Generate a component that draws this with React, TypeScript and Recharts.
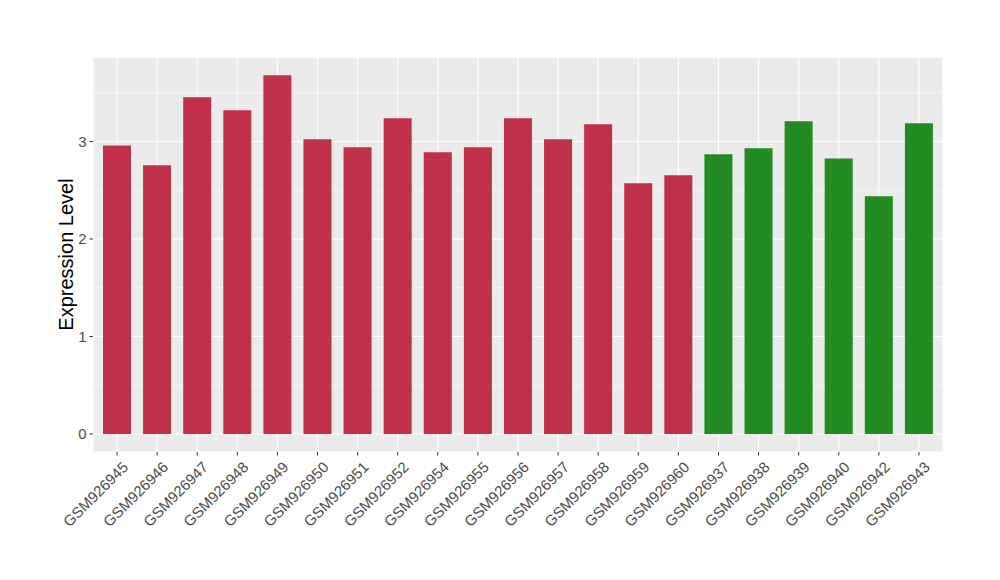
import { BarChart, Bar, XAxis, YAxis, CartesianGrid, Cell } from 'recharts'

const samples = [
  'GSM926945', 'GSM926946', 'GSM926947', 'GSM926948', 'GSM926949', 'GSM926950', 'GSM926951',
  'GSM926952', 'GSM926954', 'GSM926955', 'GSM926956', 'GSM926957', 'GSM926958', 'GSM926959',
  'GSM926960', 'GSM926937', 'GSM926938', 'GSM926939', 'GSM926940', 'GSM926942', 'GSM926943',
]
const values = [
  2.96, 2.756, 3.453, 3.32, 3.679, 3.022, 2.94,
  3.238, 2.889, 2.94, 3.238, 3.022, 3.176, 2.571,
  2.653, 2.869, 2.93, 3.207, 2.827, 2.438, 3.187,
]
const groups = [
  'A', 'A', 'A', 'A', 'A', 'A', 'A',
  'A', 'A', 'A', 'A', 'A', 'A', 'A',
  'A', 'B', 'B', 'B', 'B', 'B', 'B',
]
const majorTicks = [0, 1, 2, 3]
const minorTicks = [0.5, 1.5, 2.5, 3.5]
const Y_DOMAIN = [-0.185, 3.867]

const GROUP_COLORS: Record<string, string> = { A: '#C13049', B: '#228B22' }
const FONT = '"Liberation Sans", Arial, Helvetica, sans-serif'
const TICK_TEXT = '#4D4D4D'
const TICK_LINE = '#333333'

const data = samples.map((s, i) => ({ sample: s, value: values[i], group: groups[i] }))

function XTick({ x, y, payload }: any) {
  return (
    <g transform={`translate(${x},${y})`}>
      <text
        transform="rotate(-45)"
        textAnchor="end"
        dy={16}
        dx={1}
        fill={TICK_TEXT}
        fontSize={15}
        fontFamily={FONT}
      >
        {payload.value}
      </text>
    </g>
  )
}

function YTitle({ viewBox }: any) {
  const cx = viewBox.x + 20
  const cy = viewBox.y + viewBox.height / 2
  return (
    <text
      x={cx}
      y={cy}
      transform={`rotate(-90 ${cx} ${cy})`}
      textAnchor="middle"
      fill="#000000"
      fontSize={20}
      fontFamily={FONT}
    >
      Expression Level
    </text>
  )
}

export default function App() {
  return (
    <div style={{ position: 'absolute', top: 0, left: 0, width: 1000, height: 580, background: '#fff' }}>
      <BarChart
        width={1000}
        height={580}
        data={data}
        margin={{ top: 57, right: 57, bottom: 0, left: 53 }}
        barSize={28}
      >
        <CartesianGrid fill="#EBEBEB" stroke="#FFFFFF" strokeWidth={1.1} />
        {/* minor grid from a hidden axis with the same domain */}
        <CartesianGrid vertical={false} yAxisId="minor" stroke="#FFFFFF" strokeWidth={0.55} />
        <XAxis
          dataKey="sample"
          interval={0}
          padding={{ left: 4, right: 4 }}
          axisLine={false}
          tickSize={3.5}
          tickLine={{ stroke: TICK_LINE }}
          tick={<XTick />}
          height={128}
        />
        <YAxis
          type="number"
          domain={Y_DOMAIN}
          ticks={majorTicks}
          allowDataOverflow
          axisLine={false}
          tickSize={3.5}
          tickMargin={3}
          tickLine={{ stroke: TICK_LINE }}
          tick={{ fill: TICK_TEXT, fontSize: 15, fontFamily: FONT }}
          width={40}
          label={<YTitle />}
        />
        <YAxis
          yAxisId="minor"
          type="number"
          domain={Y_DOMAIN}
          ticks={minorTicks}
          allowDataOverflow
          hide
        />
        <Bar dataKey="value" isAnimationActive={false}>
          {data.map((d, i) => (
            <Cell key={i} fill={GROUP_COLORS[d.group]} />
          ))}
        </Bar>
      </BarChart>
    </div>
  )
}
